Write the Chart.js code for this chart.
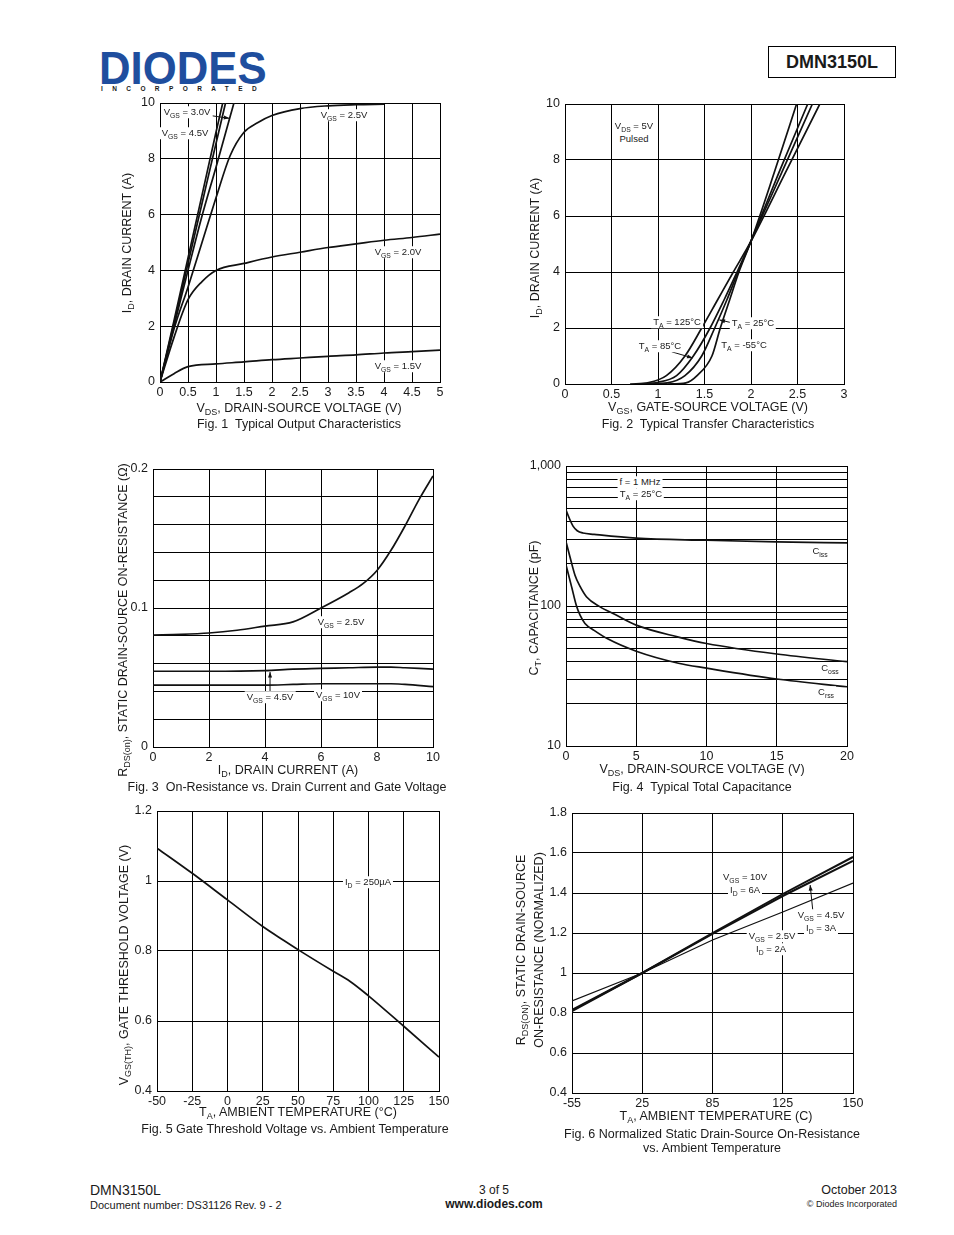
<!DOCTYPE html>
<html>
<head>
<meta charset="utf-8">
<title>DMN3150L</title>
<script src="https://cdn.jsdelivr.net/npm/chart.js@4.4.1/dist/chart.umd.min.js"></script>
<style>
  body { margin:0; background:#fff; }
  #page { position:relative; width:954px; height:1235px; overflow:hidden; font-family:"Liberation Sans", Arial, sans-serif; color:#1a1a1a; }
  .t { position:absolute; white-space:nowrap; line-height:1; transform:translate(-50%,-50%); z-index:2; }
  .r { transform:translate(-50%,-50%) rotate(-90deg); }
  .ax { font-size:12.5px; }
  .lab { font-size:9.5px; background:#fff; padding:1px 2px; }
  sub { font-size:72%; vertical-align:-0.35em; line-height:0; }
  canvas { position:absolute; z-index:1; }
</style>
</head>
<body>
<div id="page">
  <div style="position:absolute;left:99px;top:44px;font:bold 47px 'Liberation Sans',Arial,sans-serif;color:#1f4e9e;transform:scaleX(0.93);transform-origin:left top;line-height:1">DIODES</div>
  <div style="position:absolute;left:101px;top:86px;font:bold 6.5px 'Liberation Sans',Arial,sans-serif;letter-spacing:9.4px;line-height:1">INCORPORATED</div>
  <div style="position:absolute;left:768px;top:46px;width:126px;height:30px;border:1.5px solid #000;font:bold 18px 'Liberation Sans',Arial,sans-serif;display:flex;align-items:center;justify-content:center">DMN3150L</div>

  <div style="position:absolute;left:90px;top:1183px;font-size:14px;line-height:1">DMN3150L</div>
  <div style="position:absolute;left:90px;top:1200px;font-size:11px;line-height:1">Document number: DS31126 Rev. 9 - 2</div>
  <div class="t" style="left:494px;top:1190px;font-size:12px">3 of 5</div>
  <div class="t" style="left:494px;top:1204px;font-size:12px;font-weight:bold">www.diodes.com</div>
  <div style="position:absolute;right:57px;top:1184px;font-size:12.5px;line-height:1">October 2013</div>
  <div style="position:absolute;right:57px;top:1200px;font-size:9px;line-height:1">© Diodes Incorporated</div>
</div>
<script>
const FONT = '"Liberation Sans", Arial, sans-serif';
const page = document.getElementById('page');

// Fig. 1 - I_D (A) vs V_DS (V), one [x, y] list per gate voltage
const fig1Vgs10 = [[0,0],[0.25,2.2],[0.5,4.45],[0.75,6.7],[1.0,8.95],[1.12,10]];
const fig1Vgs45 = [[0,0],[0.25,2.1],[0.5,4.25],[0.75,6.4],[1.0,8.55],[1.17,10]];
const fig1Vgs30 = [[0,0],[0.25,2.0],[0.5,4.0],[0.75,5.95],[1.0,7.7],[1.25,9.5],[1.32,10]];
const fig1Vgs25 = [[0,0],[0.25,1.9],[0.5,3.4],[0.75,5.0],[1.0,6.6],[1.25,8.1],[1.5,8.95],[1.75,9.3],[2.0,9.55],[2.5,9.8],[3.0,9.9],[3.5,9.94],[4.0,9.96]];
const fig1Vgs20 = [[0,0],[0.25,1.6],[0.5,2.95],[0.75,3.6],[1.0,4.0],[1.5,4.25],[2.0,4.48],[2.5,4.65],[3.0,4.82],[3.5,4.95],[4.0,5.08],[4.5,5.18],[5.0,5.3]];
const fig1Vgs15 = [[0,0],[0.25,0.3],[0.5,0.55],[1.0,0.65],[1.5,0.72],[2.0,0.8],[2.5,0.86],[3.0,0.92],[3.5,0.97],[4.0,1.04],[4.5,1.09],[5.0,1.14]];

// Fig. 2 - I_D (A) vs V_GS (V) per ambient temperature
const fig2T125 = [[0.7,0],[0.9,0.05],[1.09,0.3],[1.29,1.0],[1.47,2.0],[1.64,3.0],[1.81,4.0],[2.0,5.1],[2.37,7.55],[2.74,10]];
const fig2T85  = [[0.8,0],[1.0,0.06],[1.2,0.3],[1.38,1.0],[1.56,2.0],[1.71,3.0],[1.85,4.0],[2.0,5.1],[2.33,7.55],[2.66,10]];
const fig2T25  = [[0.9,0],[1.1,0.04],[1.29,0.3],[1.47,1.0],[1.61,2.0],[1.74,3.0],[1.86,4.0],[2.0,5.1],[2.3,7.55],[2.61,10]];
const fig2Tm55 = [[1.1,0],[1.3,0.04],[1.42,0.3],[1.58,1.0],[1.67,2.0],[1.77,3.0],[1.87,4.0],[2.0,5.1],[2.25,7.55],[2.49,10]];

// Fig. 3 - R_DS(on) (ohm) vs I_D (A)
const fig3Vgs25 = [[0,0.0805],[1,0.081],[2,0.082],[3,0.084],[4,0.087],[5,0.090],[6,0.100],[7,0.111],[7.5,0.1175],[8,0.127],[8.5,0.1415],[9,0.159],[9.5,0.178],[10,0.195]];
const fig3Vgs45 = [[0,0.0545],[2,0.0545],[4,0.055],[5,0.056],[6,0.0565],[7,0.057],[8,0.0575],[8.5,0.0575],[9,0.057],[10,0.056]];
const fig3Vgs10 = [[0,0.0445],[2,0.0445],[4,0.0445],[5,0.045],[6,0.0455],[8,0.0455],[8.5,0.0455],[9,0.045],[10,0.0435]];
const fig3TickVals = [0, 0.1, 0.2];
const fig3TickText = ['0', '0.1', '0.2'];

// Fig. 4 - capacitance (pF) vs V_DS (V)
const fig4Ciss = [[0,485],[0.25,420],[0.5,372],[0.8,345],[1.2,332],[2,325],[5,305],[10,295],[15,287],[20,282]];
const fig4Coss = [[0,288],[0.28,225],[0.64,166],[1.0,138],[1.47,116],[2.4,99],[3.5,87],[5,73],[8,60],[10,54],[15,45.4],[20,40]];
const fig4Crss = [[0,196],[0.4,137],[0.76,99],[1.0,86],[1.35,75],[2,67],[3,58],[5,47.5],[8,39],[10,36],[15,30.1],[20,26.5]];
const fig4Grid = [10,20,30,40,50,60,70,80,90,100,200,300,400,500,600,700,800,900,1000];
const fig4TickVals = [10, 100, 1000];
const fig4TickText = ['10', '100', '1,000'];

// Fig. 5 - V_GS(th) (V) vs T_A (C)
const fig5Vth = [[-50,1.094],[-25,1.022],[0,0.946],[25,0.87],[40,0.83],[50,0.804],[75,0.742],[87,0.713],[100,0.672],[125,0.585],[150,0.497]];

// Fig. 6 - normalised R_DS(on), temperatures sit on evenly spaced grid columns
const fig6Temps = ['-55', '25', '85', '125', '150'];
const fig6Vgs10 = [0.81, 1.0, 1.20, 1.395, 1.58];
const fig6Vgs45 = [0.815, 1.0, 1.195, 1.385, 1.56];
const fig6Vgs25 = [0.86, 1.0, 1.165, 1.305, 1.45];

const pts = list => list.map(p => ({x: p[0], y: p[1]}));
const idxPts = list => list.map((v, i) => ({x: i, y: v}));
const fmt = v => String(+Number(v).toFixed(3));

function line(data, width) {
  return {data: data, showLine: true, borderColor: '#111', borderWidth: width || 1.7, pointRadius: 0, fill: false};
}

// arrows are drawn in data coordinates: [x0, y0, x1(tip), y1(tip)]
const arrowPlugin = {
  id: 'arrows',
  afterDatasetsDraw(chart, args, opts) {
    const list = opts.list || [];
    const ctx = chart.ctx, sx = chart.scales.x, sy = chart.scales.y;
    ctx.save();
    ctx.strokeStyle = '#111'; ctx.fillStyle = '#111'; ctx.lineWidth = 1;
    list.forEach(a => {
      const x0 = sx.getPixelForValue(a[0]), y0 = sy.getPixelForValue(a[1]);
      const x1 = sx.getPixelForValue(a[2]), y1 = sy.getPixelForValue(a[3]);
      const ang = Math.atan2(y1 - y0, x1 - x0), L = 6;
      ctx.beginPath(); ctx.moveTo(x0, y0); ctx.lineTo(x1, y1); ctx.stroke();
      ctx.beginPath();
      ctx.moveTo(x1, y1);
      ctx.lineTo(x1 - L * Math.cos(ang - 0.35), y1 - L * Math.sin(ang - 0.35));
      ctx.lineTo(x1 - L * Math.cos(ang + 0.35), y1 - L * Math.sin(ang + 0.35));
      ctx.closePath(); ctx.fill();
    });
    ctx.restore();
  }
};

const YW = 48, XH = 26, PT = 14, PR = 24;

function axis(isX, o) {
  const ticks = Object.assign({
    color: '#1a1a1a', font: {family: FONT, size: 12.5}, padding: isX ? 3 : 5,
    maxRotation: 0, autoSkip: false, callback: v => fmt(v)
  }, o.ticks || {});
  return Object.assign({}, o, {
    ticks: ticks,
    grid: {color: '#000', lineWidth: 1, drawTicks: false},
    border: {color: '#000', width: 1},
    afterFit(s) {
      if (isX) s.height = XH; else s.width = YW;
      s.paddingLeft = s.paddingRight = s.paddingTop = s.paddingBottom = 0;
    }
  });
}

function makeChart(box, datasets, xo, yo, arrows, smooth) {
  const cv = document.createElement('canvas');
  const w = box.r - box.l + YW + PR, h = box.b - box.t + PT + XH;
  cv.width = w; cv.height = h;
  cv.style.left = (box.l - YW) + 'px'; cv.style.top = (box.t - PT) + 'px';
  cv.style.width = w + 'px'; cv.style.height = h + 'px';
  page.appendChild(cv);
  return new Chart(cv.getContext('2d'), {
    type: 'scatter',
    data: {datasets: datasets},
    options: {
      responsive: false, animation: false,
      layout: {padding: {left: 0, top: PT, right: PR, bottom: 0}},
      elements: {line: {cubicInterpolationMode: smooth ? 'monotone' : 'default', tension: 0}},
      plugins: {legend: {display: false}, tooltip: {enabled: false}, arrows: {list: arrows || []}},
      scales: {x: axis(true, xo), y: axis(false, yo)}
    },
    plugins: [arrowPlugin]
  });
}

function text(x, y, html, cls) {
  const d = document.createElement('div');
  d.className = 't ' + (cls || '');
  d.style.left = x + 'px'; d.style.top = y + 'px';
  d.innerHTML = html;
  page.appendChild(d);
}

// ---------- Fig. 1
makeChart({l:160, t:103, r:440, b:382},
  [line(pts(fig1Vgs10)), line(pts(fig1Vgs45)), line(pts(fig1Vgs30)), line(pts(fig1Vgs25)), line(pts(fig1Vgs20)), line(pts(fig1Vgs15))],
  {type:'linear', min:0, max:5, ticks:{stepSize:0.5}},
  {type:'linear', min:0, max:10, ticks:{stepSize:2}},
  [[0.9, 9.55, 1.24, 9.45]], true);
text(187, 112, 'V<sub>GS</sub> = 3.0V', 'lab');
text(185, 133, 'V<sub>GS</sub> = 4.5V', 'lab');
text(344, 115, 'V<sub>GS</sub> = 2.5V', 'lab');
text(398, 252, 'V<sub>GS</sub> = 2.0V', 'lab');
text(398, 366, 'V<sub>GS</sub> = 1.5V', 'lab');
text(127, 243, 'I<sub>D</sub>, DRAIN CURRENT (A)', 'ax r');
text(299, 408, 'V<sub>DS</sub>, DRAIN-SOURCE VOLTAGE (V)', 'ax');
text(299, 424, 'Fig. 1&nbsp; Typical Output Characteristics', 'ax');

// ---------- Fig. 2
makeChart({l:565, t:104, r:844, b:384},
  [line(pts(fig2T125)), line(pts(fig2T85)), line(pts(fig2T25)), line(pts(fig2Tm55))],
  {type:'linear', min:0, max:3, ticks:{stepSize:0.5}},
  {type:'linear', min:0, max:10, ticks:{stepSize:2}},
  [[1.79, 2.19, 1.66, 2.29], [1.147, 1.15, 1.373, 0.93]], true);
text(634, 126, 'V<sub>DS</sub> = 5V', 'lab');
text(634, 139, 'Pulsed', 'lab');
text(677, 322, 'T<sub>A</sub> = 125°C', 'lab');
text(753, 323, 'T<sub>A</sub> = 25°C', 'lab');
text(660, 346, 'T<sub>A</sub> = 85°C', 'lab');
text(744, 345, 'T<sub>A</sub> = -55°C', 'lab');
text(535, 248, 'I<sub>D</sub>, DRAIN CURRENT (A)', 'ax r');
text(708, 407, 'V<sub>GS</sub>, GATE-SOURCE VOLTAGE (V)', 'ax');
text(708, 424, 'Fig. 2&nbsp; Typical Transfer Characteristics', 'ax');

// ---------- Fig. 3
makeChart({l:153, t:469, r:433, b:747},
  [line(pts(fig3Vgs25)), line(pts(fig3Vgs45)), line(pts(fig3Vgs10))],
  {type:'linear', min:0, max:10, ticks:{stepSize:2}},
  {type:'linear', min:0, max:0.2, ticks:{stepSize:0.02, callback: v => {
    const i = fig3TickVals.findIndex(t => Math.abs(t - v) < 1e-6);
    return i >= 0 ? fig3TickText[i] : '';
  }}},
  [[4.18, 0.0388, 4.18, 0.054]], true);
text(341, 622, 'V<sub>GS</sub> = 2.5V', 'lab');
text(270, 697, 'V<sub>GS</sub> = 4.5V', 'lab');
text(338, 695, 'V<sub>GS</sub> = 10V', 'lab');
text(123, 620, 'R<sub>DS(on)</sub>, STATIC DRAIN-SOURCE ON-RESISTANCE (Ω)', 'ax r');
text(288, 770, 'I<sub>D</sub>, DRAIN CURRENT (A)', 'ax');
text(287, 787, 'Fig. 3&nbsp; On-Resistance vs. Drain Current and Gate Voltage', 'ax');

// ---------- Fig. 4
makeChart({l:566, t:466, r:847, b:746},
  [line(pts(fig4Ciss)), line(pts(fig4Coss)), line(pts(fig4Crss))],
  {type:'linear', min:0, max:20, ticks:{stepSize:5}},
  {type:'logarithmic', min:10, max:1000,
   afterBuildTicks(s) { s.ticks = fig4Grid.map(v => ({value: v})); },
   ticks:{callback: v => {
    const i = fig4TickVals.indexOf(v);
    return i >= 0 ? fig4TickText[i] : '';
  }}},
  [], true);
text(640, 482, 'f = 1 MHz', 'lab');
text(641, 494, 'T<sub>A</sub> = 25°C', 'lab');
text(820, 551, 'C<sub>iss</sub>', 'lab');
text(830, 668, 'C<sub>oss</sub>', 'lab');
text(826, 692, 'C<sub>rss</sub>', 'lab');
text(534, 608, 'C<sub>T</sub>, CAPACITANCE (pF)', 'ax r');
text(702, 769, 'V<sub>DS</sub>, DRAIN-SOURCE VOLTAGE (V)', 'ax');
text(702, 787, 'Fig. 4&nbsp; Typical Total Capacitance', 'ax');

// ---------- Fig. 5
makeChart({l:157, t:811, r:439, b:1091},
  [line(pts(fig5Vth))],
  {type:'linear', min:-50, max:150, ticks:{stepSize:25}},
  {type:'linear', min:0.4, max:1.2, ticks:{stepSize:0.2}},
  [], true);
text(368, 882, 'I<sub>D</sub> = 250µA', 'lab');
text(124, 965, 'V<sub>GS(TH)</sub>, GATE THRESHOLD VOLTAGE (V)', 'ax r');
text(298, 1112, 'T<sub>A</sub>, AMBIENT TEMPERATURE (°C)', 'ax');
text(295, 1129, 'Fig. 5 Gate Threshold Voltage vs. Ambient Temperature', 'ax');

// ---------- Fig. 6
makeChart({l:572, t:813, r:853, b:1093},
  [line(idxPts(fig6Vgs10), 2), line(idxPts(fig6Vgs45), 2), line(idxPts(fig6Vgs25), 1.3)],
  {type:'linear', min:0, max:fig6Temps.length - 1, ticks:{stepSize:1, callback: v => fig6Temps[v] || ''}},
  {type:'linear', min:0.4, max:1.8, ticks:{stepSize:0.2}},
  [[3.43, 1.305, 3.39, 1.44]], false);
text(745, 877, 'V<sub>GS</sub> = 10V', 'lab');
text(745, 890, 'I<sub>D</sub> = 6A', 'lab');
text(821, 915, 'V<sub>GS</sub> = 4.5V', 'lab');
text(821, 928, 'I<sub>D</sub> = 3A', 'lab');
text(772, 936, 'V<sub>GS</sub> = 2.5V', 'lab');
text(771, 949, 'I<sub>D</sub> = 2A', 'lab');
text(521, 950, 'R<sub>DS(ON)</sub>, STATIC DRAIN-SOURCE', 'ax r');
text(539, 950, 'ON-RESISTANCE (NORMALIZED)', 'ax r');
text(716, 1116, 'T<sub>A</sub>, AMBIENT TEMPERATURE (C)', 'ax');
text(712, 1134, 'Fig. 6 Normalized Static Drain-Source On-Resistance', 'ax');
text(712, 1148, 'vs. Ambient Temperature', 'ax');
</script>
</body>
</html>
